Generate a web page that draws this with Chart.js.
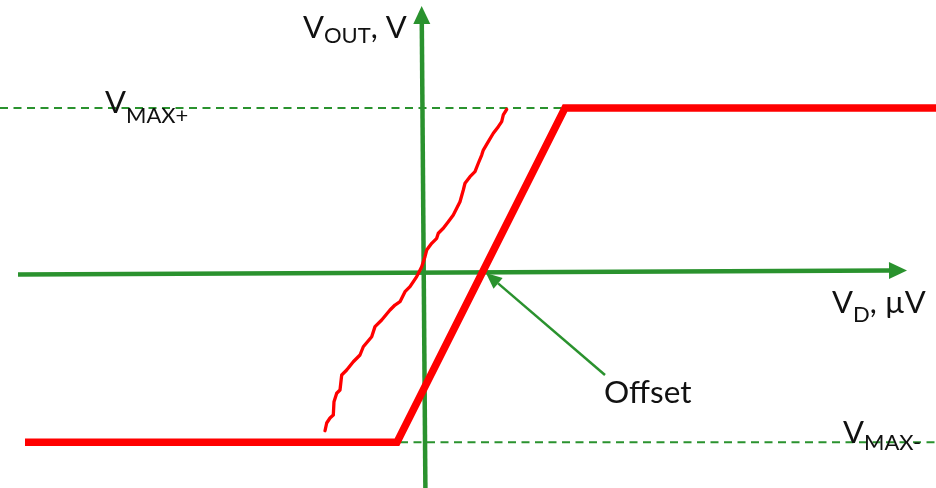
<!DOCTYPE html>
<html>
<head>
<meta charset="utf-8">
<script src="https://cdn.jsdelivr.net/npm/chart.js@4.4.1/dist/chart.umd.min.js"></script>
<style>
  html, body { margin: 0; padding: 0; background: #ffffff; }
  #wrap { width: 936px; height: 488px; position: relative; }
</style>
</head>
<body>
<div id="wrap"><canvas id="chart"></canvas></div>
<script>
// Op-amp transfer characteristic: differential input V_D (µV) against output V_OUT (V)

// Saturation levels of the output
const vMaxPos = 10;
const vMaxNeg = -10.25;

// Real amplifier: clipped ramp shifted right by the input offset
const realX = [-40.0, -2.8, 14.0, 51.5];
const realY = [vMaxNeg, vMaxNeg, vMaxPos, vMaxPos];

// Measured (noisy) response passing close to the origin
const measuredX = [-10.0, -9.83, -9.5, -9.17, -9.1, -8.83, -8.5, -8.33, -7.83, -7.17,
                   -6.5, -6.17, -5.33, -5.0, -4.33, -3.5, -3.0, -2.5, -2.0, -1.5,
                   -0.83, -0.33, 0.0, 0.17, 0.67, 1.17, 1.33, 1.83, 2.33, 2.83,
                   3.17, 3.5, 3.83, 4.0, 4.5, 5.0, 5.33, 5.67, 5.83, 6.33,
                   6.83, 7.33, 7.67, 7.83, 8.17];
const measuredY = [-9.56, -9.09, -8.79, -8.61, -7.8, -7.29, -7.09, -6.18, -5.88, -5.38,
                   -4.97, -4.47, -3.86, -3.25, -2.85, -2.24, -1.94, -1.74, -1.13, -0.83,
                   -0.22, 0.38, 0.99, 1.39, 1.8, 2.1, 2.41, 2.71, 3.11, 3.52,
                   3.92, 4.32, 5.03, 5.44, 5.84, 6.14, 6.65, 7.15, 7.45, 7.96,
                   8.47, 8.87, 9.17, 9.58, 9.92];

// Axis shafts (the arrowheads are added by the plugin beyond the last point)
const axisXx = [-40.7, 46.4];
const axisXy = [-0.09, 0.15];
const axisYx = [0.04, -0.32];
const axisYy = [-13.1, 15.09];

// Saturation guide lines
const guidePosX = [-42.5, 51.5];
const guideNegX = [-2.5, 51.5];

// Pointer to the offset crossing
const pointerX = [18.0, 7.31];
const pointerY = [-6.18, -0.63];

const GREEN = '#2a922e';
const RED = '#ff0000';

const pts = (xs, ys) => xs.map((x, i) => ({ x, y: ys[i] }));
const flat = (xs, v) => xs.map(x => ({ x, y: v }));

// Text annotations, anchored in data units; each label is a run of text pieces
const MAIN = '31px Lato';
const SUB = '22px Lato';
const labels = [
  { x: -12.2, y: 14.24, parts: [{ t: 'V', f: MAIN }, { t: 'OUT', f: SUB, dy: 5 }, { t: ', V', f: MAIN }] },
  { x: -32.0, y: 9.70, parts: [{ t: 'V', f: MAIN }, { t: 'MAX+', f: SUB, dy: 10 }] },
  { x: 40.7, y: -2.42, parts: [{ t: 'V', f: MAIN }, { t: 'D', f: SUB, dy: 9 }, { t: ', µV', f: MAIN }] },
  { x: 41.8, y: -10.3, parts: [{ t: 'V', f: MAIN }, { t: 'MAX-', f: SUB, dy: 7 }] },
  { x: 17.9, y: -7.88, parts: [{ t: 'Offset', f: '31.5px Lato' }] }
];

const arrowHeads = {
  id: 'arrowHeads',
  afterDatasetsDraw(chart) {
    const ctx = chart.ctx;
    chart.data.datasets.forEach((ds, i) => {
      if (!ds.arrowHead) return;
      const meta = chart.getDatasetMeta(i).data;
      const a = meta[meta.length - 2], b = meta[meta.length - 1];
      const ang = Math.atan2(b.y - a.y, b.x - a.x);
      const { length, width } = ds.arrowHead;
      const c = Math.cos(ang), s = Math.sin(ang);
      const tipX = b.x + length * c, tipY = b.y + length * s;
      ctx.save();
      ctx.fillStyle = ds.borderColor;
      ctx.beginPath();
      ctx.moveTo(tipX, tipY);
      ctx.lineTo(b.x + (width / 2) * s, b.y - (width / 2) * c);
      ctx.lineTo(b.x - (width / 2) * s, b.y + (width / 2) * c);
      ctx.closePath();
      ctx.fill();
      ctx.restore();
    });
  }
};

const textLabels = {
  id: 'textLabels',
  afterDraw(chart) {
    const ctx = chart.ctx;
    const xs = chart.scales.x, ys = chart.scales.y;
    ctx.save();
    ctx.fillStyle = '#111111';
    ctx.textBaseline = 'alphabetic';
    ctx.textAlign = 'left';
    labels.forEach(l => {
      let cx = xs.getPixelForValue(l.x);
      const by = ys.getPixelForValue(l.y);
      l.parts.forEach(p => {
        ctx.font = p.f;
        ctx.fillText(p.t, cx, by + (p.dy || 0));
        cx += ctx.measureText(p.t).width;
      });
    });
    ctx.restore();
  }
};

const whiteBg = {
  id: 'whiteBg',
  beforeDraw(chart) {
    const ctx = chart.ctx;
    ctx.save();
    ctx.fillStyle = '#ffffff';
    ctx.fillRect(0, 0, chart.width, chart.height);
    ctx.restore();
  }
};

const line = (data, color, width, extra) => Object.assign({
  data, borderColor: color, backgroundColor: color, borderWidth: width,
  showLine: true, pointRadius: 0, tension: 0, fill: false
}, extra || {});

new Chart(document.getElementById('chart'), {
  type: 'scatter',
  data: {
    datasets: [
      line(pts(realX, realY), RED, 7.5, { borderJoinStyle: 'miter', borderCapStyle: 'butt' }),
      line(pts(measuredX, measuredY), RED, 3.3, { borderJoinStyle: 'round', borderCapStyle: 'round' }),
      line(pts(pointerX, pointerY), GREEN, 2.5, { arrowHead: { length: 16, width: 14 } }),
      line(pts(axisXx, axisXy), GREEN, 4.5, { arrowHead: { length: 18, width: 17 } }),
      line(pts(axisYx, axisYy), GREEN, 4.5, { arrowHead: { length: 18, width: 17 } }),
      line(flat(guidePosX, vMaxPos), GREEN, 2, { borderDash: [8, 5.5] }),
      line(flat(guideNegX, vMaxNeg), GREEN, 2, { borderDash: [8, 5.5] })
    ]
  },
  options: {
    responsive: true,
    maintainAspectRatio: false,
    animation: false,
    layout: { padding: 0 },
    plugins: { legend: { display: false }, tooltip: { enabled: false } },
    events: [],
    scales: {
      x: { type: 'linear', min: -42.5, max: 51.1, display: false },
      y: { type: 'linear', min: -13.03, max: 16.545, display: false }
    }
  },
  plugins: [whiteBg, arrowHeads, textLabels]
});
</script>
</body>
</html>
